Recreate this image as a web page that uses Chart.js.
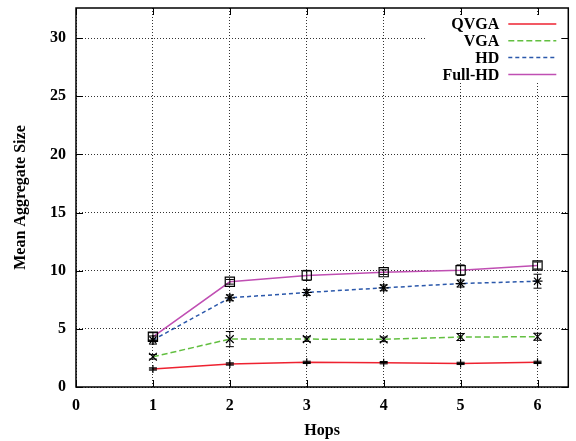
<!DOCTYPE html>
<html>
<head>
<meta charset="utf-8">
<script src="https://cdn.jsdelivr.net/npm/chart.js@4/dist/chart.umd.min.js"></script>
<style>
  html, body { margin: 0; padding: 0; background: #fff; }
</style>
</head>
<body>
<canvas id="chart" width="576" height="441"></canvas>
<script>
// -------------------------------
// DATA
// -------------------------------
const hops = [1, 2, 3, 4, 5, 6];

const qvga = [1.55, 1.98, 2.12, 2.09, 2.03, 2.12];
const qvgaErr = [0.1, 0.1, 0.1, 0.1, 0.1, 0.1];

const vga = [2.6, 4.12, 4.12, 4.1, 4.3, 4.32];
const vgaErr = [0.2, 0.65, 0.2, 0.2, 0.3, 0.3];

const hd = [4.04, 7.67, 8.13, 8.53, 8.9, 9.1];
const hdErr = [0.35, 0.25, 0.25, 0.25, 0.3, 0.6];

const fullHd = [4.32, 9.05, 9.6, 9.88, 10.05, 10.45];
const fullHdErr = [0.35, 0.2, 0.43, 0.2, 0.45, 0.3];

const seriesNames = ["QVGA", "VGA", "HD", "Full-HD"];
const seriesColors = ["#ee2230", "#62bf40", "#2b58ab", "#c04fb3"];
const seriesDashes = [[], [6, 3], [4, 3], []];

const serif = '"Liberation Serif", "Times New Roman", serif';

function pts(values) {
  return hops.map((h, i) => ({ x: h, y: values[i] }));
}

// -------------------------------
// PLUGINS
// -------------------------------
const errorBars = {
  id: "errorBars",
  afterDatasetsDraw(chart) {
    const ctx = chart.ctx;
    const xs = chart.scales.x;
    const ys = chart.scales.y;
    ctx.save();
    ctx.strokeStyle = "#000";
    ctx.lineWidth = 1;
    chart.data.datasets.forEach((ds) => {
      ds.data.forEach((p, i) => {
        const e = ds.errors[i];
        const px = xs.getPixelForValue(p.x);
        const top = ys.getPixelForValue(p.y + e);
        const bot = ys.getPixelForValue(p.y - e);
        ctx.beginPath();
        ctx.moveTo(px, top);
        ctx.lineTo(px, bot);
        ctx.moveTo(px - 4, top);
        ctx.lineTo(px + 4, top);
        ctx.moveTo(px - 4, bot);
        ctx.lineTo(px + 4, bot);
        ctx.stroke();
      });
    });
    ctx.restore();
  },
};

const frameAndLegend = {
  id: "frameAndLegend",
  afterDraw(chart) {
    const ctx = chart.ctx;
    const a = chart.chartArea;
    const xs = chart.scales.x;
    const ys = chart.scales.y;
    ctx.save();

    // legend box
    ctx.fillStyle = "#fff";
    ctx.fillRect(a.right - 143, a.top + 8, 141, 66);
    ctx.font = "bold 16px " + serif;
    ctx.textAlign = "right";
    ctx.textBaseline = "middle";
    seriesNames.forEach((name, i) => {
      const y = a.top + 16 + i * 16.8;
      ctx.fillStyle = "#000";
      ctx.fillText(name, a.right - 69, y + 1);
      ctx.strokeStyle = seriesColors[i];
      ctx.lineWidth = 1.5;
      ctx.setLineDash(seriesDashes[i]);
      ctx.beginPath();
      ctx.moveTo(a.right - 60, y);
      ctx.lineTo(a.right - 12, y);
      ctx.stroke();
    });
    ctx.setLineDash([]);

    // inward ticks
    ctx.strokeStyle = "#000";
    ctx.lineWidth = 1;
    ctx.beginPath();
    xs.ticks.forEach((t) => {
      const px = Math.round(xs.getPixelForValue(t.value)) + 0.5;
      ctx.moveTo(px, a.bottom);
      ctx.lineTo(px, a.bottom - 7);
      ctx.moveTo(px, a.top);
      ctx.lineTo(px, a.top + 7);
    });
    ys.ticks.forEach((t) => {
      const py = Math.round(ys.getPixelForValue(t.value)) + 0.5;
      ctx.moveTo(a.left, py);
      ctx.lineTo(a.left + 7, py);
      ctx.moveTo(a.right, py);
      ctx.lineTo(a.right - 7, py);
    });
    ctx.stroke();

    // frame
    ctx.lineWidth = 1.5;
    ctx.strokeRect(a.left, a.top, a.right - a.left, a.bottom - a.top);
    ctx.restore();
  },
};

// -------------------------------
// CHART
// -------------------------------
const sets = [qvga, vga, hd, fullHd];
const errs = [qvgaErr, vgaErr, hdErr, fullHdErr];
const styles = ["cross", "crossRot", "star", "rect"];
const radii = [4, 5.5, 5, 6.5];

const chart = new Chart(document.getElementById("chart").getContext("2d"), {
  type: "line",
  data: {
    datasets: sets.map((vals, i) => ({
      label: seriesNames[i],
      data: pts(vals),
      errors: errs[i],
      borderColor: seriesColors[i],
      borderWidth: 1.5,
      borderDash: seriesDashes[i],
      pointStyle: styles[i],
      pointRadius: radii[i],
      pointBorderColor: "#000",
      pointBackgroundColor: "rgba(0,0,0,0)",
      pointBorderWidth: 1.2,
      fill: false,
      tension: 0,
    })),
  },
  options: {
    responsive: false,
    animation: false,
    layout: { padding: { top: 8, right: 7, left: 0, bottom: 0 } },
    plugins: { legend: { display: false }, tooltip: { enabled: false } },
    scales: {
      x: {
        type: "linear",
        min: 0,
        max: 6.4,
        afterFit: (s) => { s.height = 54; s.paddingLeft = 0; s.paddingRight = 0; },
        ticks: {
          stepSize: 1,
          includeBounds: false,
          padding: 9,
          color: "#000",
          font: { family: serif, size: 16, weight: "bold" },
        },
        grid: { color: "#333", lineWidth: 1, drawTicks: false, tickLength: 0 },
        border: { display: false, dash: [1, 2] },
        title: {
          display: true,
          text: "Hops",
          color: "#000",
          font: { family: serif, size: 16, weight: "bold" },
          padding: { top: 0, bottom: 1 },
        },
      },
      y: {
        min: 0,
        max: 32.6,
        afterFit: (s) => { s.width = 76; s.paddingTop = 0; s.paddingBottom = 0; },
        ticks: {
          stepSize: 5,
          includeBounds: false,
          padding: 10,
          color: "#000",
          font: { family: serif, size: 16, weight: "bold" },
        },
        grid: { color: "#333", lineWidth: 1, drawTicks: false, tickLength: 0 },
        border: { display: false, dash: [1, 2] },
        title: {
          display: true,
          text: "Mean Aggregate Size",
          color: "#000",
          font: { family: serif, size: 16, weight: "bold" },
          padding: { top: 11, bottom: 0 },
        },
      },
    },
  },
  plugins: [errorBars, frameAndLegend],
});
</script>
</body>
</html>
